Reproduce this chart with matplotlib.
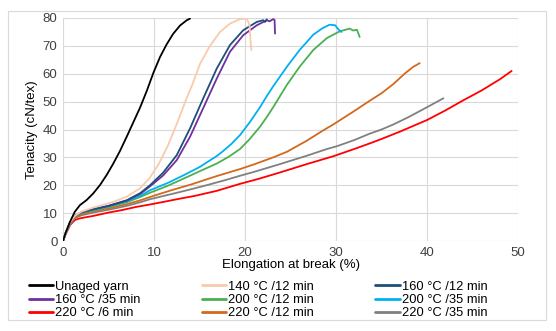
import matplotlib
matplotlib.use("Agg")
import matplotlib.pyplot as plt
from matplotlib.patches import Rectangle

plt.rcParams['font.family'] = ['Liberation Sans', 'DejaVu Sans']

# ---- data ----
labels = ["Unaged yarn", "140 °C /12 min", "160 °C /12 min",
          "160 °C /35 min", "200 °C /12 min", "200 °C /35 min",
          "220 °C /6 min", "220 °C /12 min", "220 °C /35 min"]
colors = ["#000000", "#F8CBAD", "#1F4E79", "#7030A0", "#4CAF50",
          "#00B0F0", "#FF0000", "#D2691E", "#808080"]

unaged_x = [0, 0.3, 0.77, 1.3, 1.87, 2.6, 3.33, 4.07, 4.8, 5.53, 6.26, 7.0, 7.73, 8.46,
            9.2, 9.93, 10.66, 11.4, 12.1, 12.86, 13.6, 13.96]
unaged_y = [0, 3, 6.9, 10.5, 12.9, 14.7, 17.1, 20.1, 23.7, 27.8, 32.3, 37.4, 42.6, 47.8,
            53.8, 60.3, 66.0, 70.6, 74.3, 77.3, 79.2, 79.8]

t140_12_x = [0, 0.3, 0.8, 1.3, 2, 3.33, 5.5, 7, 8.46, 9.5, 10.5, 11.5, 12.5, 13.5, 14.2,
             15.05, 16.15, 17.25, 18.35, 19.45, 20.2, 20.5, 20.6, 20.7]
t140_12_y = [0, 3, 6.8, 9, 10.5, 12.0, 14.0, 15.9, 18.9, 22.5, 27.5, 34, 42, 50.5, 56,
             63.5, 70, 75, 78, 79.6, 79.8, 77.4, 72, 68.5]

t160_12_x = [0, 0.3, 0.8, 1.3, 2, 3.33, 5, 7, 8.5, 9.56, 11, 12.5, 13.96, 15.4, 16.9,
             18.35, 19.8, 21.3, 22, 22.2, 22.4]
t160_12_y = [0, 3, 6.8, 9, 10.3, 11.4, 12.6, 14.6, 17.2, 20.0, 24.5, 30.8, 40.4, 51.1, 61.9,
             70.3, 75.6, 78.6, 79.2, 78.6, 79.5]

t160_35_x = [0, 0.3, 0.8, 1.3, 2, 3.33, 5, 7, 8.5, 9.56, 11, 12.5, 13.96, 15.4, 16.9,
             18.35, 19.8, 21.3, 22.4, 22.7, 23.1, 23.25, 23.3]
t160_35_y = [0, 3, 6.8, 9, 10.3, 11.4, 12.6, 14.5, 16.9, 19.6, 23.5, 29, 37.4, 47.6, 58.3,
             67.9, 73.8, 77.4, 79.2, 78.8, 79.6, 79.3, 74.4]

t200_12_x = [0, 0.3, 0.8, 1.3, 2, 3.33, 5, 7, 8.5, 9.56, 11.5, 13.2, 15, 16.9, 18.2, 19.45,
             20.5, 21.65, 22.4, 23.1, 23.85, 24.6, 26, 27.5, 29, 30.4, 31.5, 31.9, 32.3, 32.6]
t200_12_y = [0, 3, 6.8, 9, 10.1, 11, 12.2, 13.9, 15.8, 17.3, 19.8, 22.3, 25, 27.8, 30.2, 33,
             36.5, 41, 44.5, 48, 52, 56, 62.5, 68.5, 72.8, 75.2, 76.2, 75.5, 75.8, 73.2]

t200_35_x = [0, 0.3, 0.8, 1.3, 2, 3.33, 5, 7, 8.5, 9.56, 11.5, 13.2, 15, 16.9, 17.5, 18.5,
             19.45, 20.5, 21.65, 22.4, 23.1, 23.85, 24.6, 26, 27.5, 28.5, 29.3, 29.9, 30.3, 30.6]
t200_35_y = [0, 3, 6.8, 9, 10.2, 11.2, 12.4, 14.2, 16.2, 18.2, 20.8, 23.5, 26.5, 30.5, 32, 34.8,
             38, 42.5, 48, 52, 55.5, 59, 62.5, 68.5, 74, 76.3, 77.6, 77.4, 75.8, 75]

t220_6_x = [0, 0.3, 0.8, 1.3, 1.8, 3.33, 5, 6.5, 8, 9.56, 11, 12.86, 14.5, 16.9, 19.45, 21.5,
            23.85, 26.8, 29.7, 32, 33.7, 35, 37, 40, 42, 44, 46, 48, 49.3]
t220_6_y = [0, 2.5, 5.8, 7.5, 8.1, 9, 10.2, 11.1, 12.2, 13.1, 14, 15.2, 16.2, 18, 20.5, 22.3,
            24.6, 27.6, 30.4, 33, 35, 36.6, 39.2, 43.4, 46.8, 50.5, 54, 58, 61]

t220_12_x = [0, 0.3, 0.8, 1.3, 2, 3.33, 5, 7, 8.5, 9.56, 12, 14, 16.9, 19.45, 21, 23.1, 24.6,
             26.8, 28.5, 29.7, 31.9, 33.7, 35, 36.3, 37.6, 38.5, 39.2]
t220_12_y = [0, 2.8, 6.3, 8.5, 9.6, 10.6, 11.7, 13.2, 14.6, 15.8, 18.3, 20.2, 23.3, 25.8, 27.5,
             30, 32, 36, 39.5, 41.8, 46.4, 50.3, 53, 56.3, 60.2, 62.5, 63.8]

t220_35_x = [0, 0.3, 0.8, 1.3, 2, 3.33, 5, 7, 8.5, 9.56, 12, 14, 16, 18, 19.45, 21, 23.85,
             26.8, 29, 30.1, 32, 33.7, 35, 36.3, 38, 40, 41.8]
t220_35_y = [0, 2.6, 6, 8.2, 9.2, 10.2, 11.2, 12.6, 13.9, 15, 16.9, 18.5, 20.2, 22, 23.4, 24.8,
             27.6, 30.6, 33, 34, 36.2, 38.5, 40, 41.8, 44.5, 48, 51.2]

xs = [unaged_x, t140_12_x, t160_12_x, t160_35_x, t200_12_x, t200_35_x, t220_6_x, t220_12_x, t220_35_x]
ys = [unaged_y, t140_12_y, t160_12_y, t160_35_y, t200_12_y, t200_35_y, t220_6_y, t220_12_y, t220_35_y]

x_ticks = [0, 10, 20, 30, 40, 50]
y_ticks = [0, 10, 20, 30, 40, 50, 60, 70, 80]

# ---- figure ----
fig = plt.figure(figsize=(5.56, 3.31), dpi=100)
ax = fig.add_axes([63/556, 1-241/331, (518-63)/556, (241-18)/331])

order = [6, 8, 7, 4, 5, 3, 2, 1, 0]
handles = {}
for i in order:
    ln, = ax.plot(xs[i], ys[i], color=colors[i], lw=1.3, label=labels[i],
                  solid_capstyle='round', solid_joinstyle='round')
    handles[i] = ln

ax.set_xlim(0, 50)
ax.set_ylim(0, 80)
ax.set_xticks(x_ticks)
ax.set_yticks(y_ticks)
ax.grid(True, color="#D9D9D9", lw=0.8)
ax.set_axisbelow(True)
for s in ax.spines.values():
    s.set_visible(False)
ax.tick_params(length=0, labelsize=9.5, colors="#404040", pad=4)
ax.set_xlabel("Elongation at break (%)", fontsize=9.5, labelpad=0, color="#000000")
ax.set_ylabel("Tenacity (cN/tex)", fontsize=9.5, labelpad=3, color="#000000")

# legend laid out row by row (matplotlib fills columns first)
ncol = 3
nrow = 3
leg_idx = [r * ncol + c for c in range(ncol) for r in range(nrow)]
leg = fig.legend([handles[i] for i in leg_idx], [labels[i] for i in leg_idx],
                 ncol=ncol, loc='lower left',
                 bbox_to_anchor=(26/556, 1-322/331, 464/556, 50/331),
                 mode='expand', frameon=False, fontsize=9.3,
                 handlelength=1.9, handletextpad=0.15, labelspacing=0.1,
                 borderaxespad=0, borderpad=0.2)
for l in leg.get_lines():
    l.set_linewidth(2)

fig.add_artist(Rectangle((8/556, 1-320/331), (546-8)/556, (320-11)/331,
                         transform=fig.transFigure, fill=False,
                         edgecolor="#D9D9D9", lw=0.8))

fig.savefig("out.png", dpi=100)
